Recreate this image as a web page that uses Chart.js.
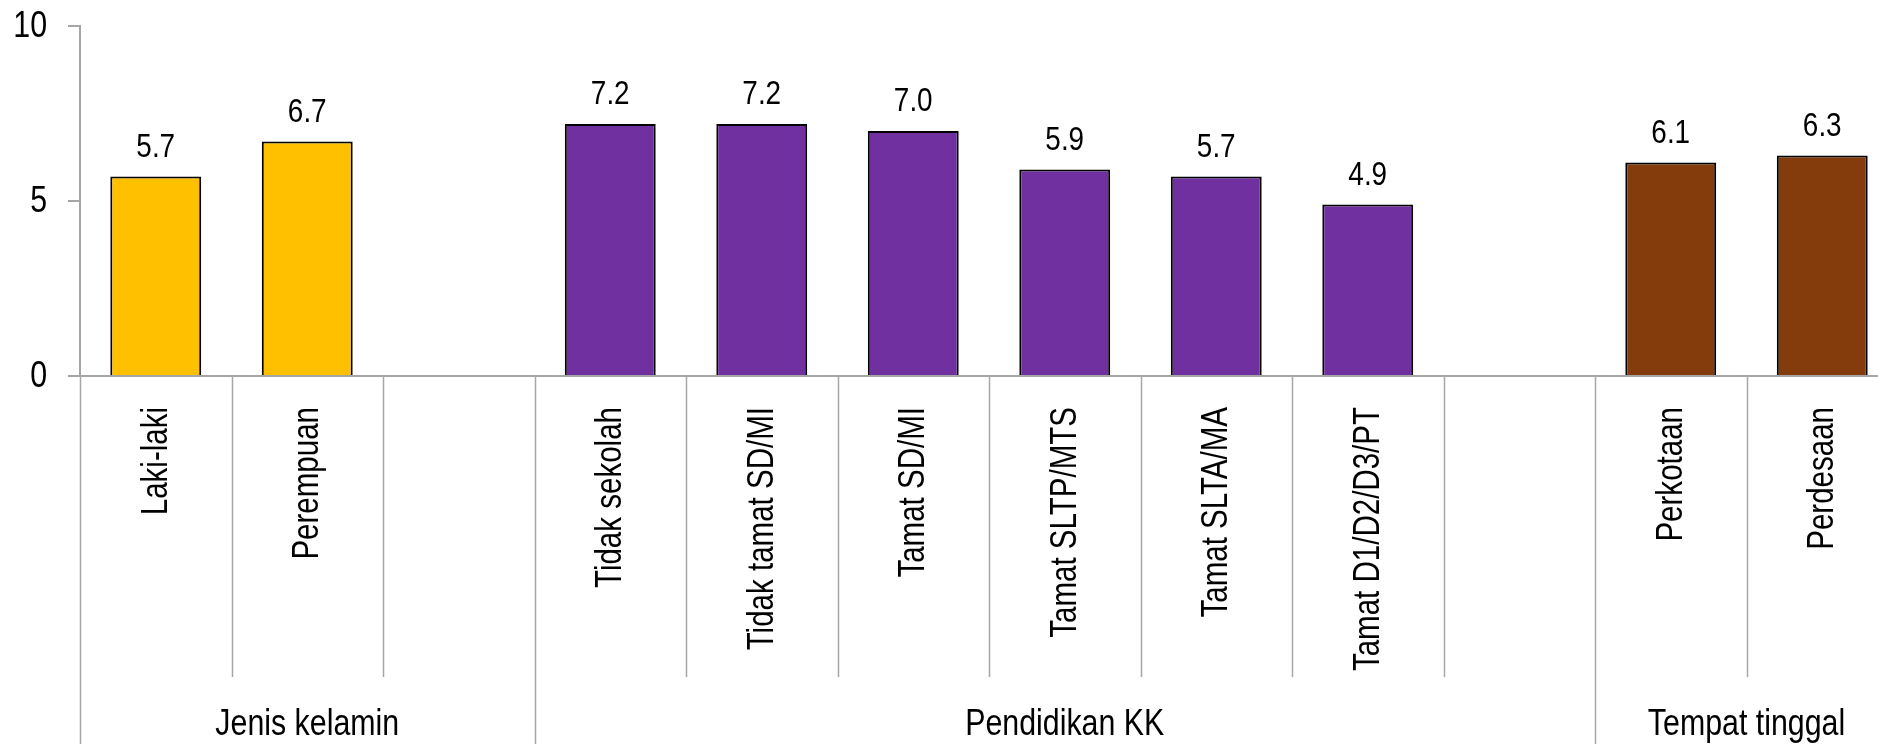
<!DOCTYPE html>
<html>
<head>
<meta charset="utf-8">
<script src="https://cdn.jsdelivr.net/npm/chart.js@4"></script>
<style>
  html, body { margin: 0; padding: 0; background: #fff; overflow: hidden; }
  #wrap { width: 1898px; height: 744px; }
</style>
</head>
<body>
<div id="wrap"><canvas id="c" width="1898" height="744"></canvas></div>
<script>
const categories = ['Laki-laki', 'Perempuan', '', 'Tidak sekolah', 'Tidak tamat SD/MI', 'Tamat SD/MI',
  'Tamat SLTP/MTS', 'Tamat SLTA/MA', 'Tamat D1/D2/D3/PT', '', 'Perkotaan', 'Perdesaan'];
const values = [5.7, 6.7, null, 7.2, 7.2, 7.0, 5.9, 5.7, 4.9, null, 6.1, 6.3];
const groupNames = ['Jenis kelamin', 'Pendidikan KK', 'Tempat tinggal'];
const groupSizes = [3, 7, 2];
const yTicks = [0, 5, 10];

const FONT = '"Liberation Sans", Arial, sans-serif';
const NARROW = 0.82; // no narrow face installed, squeeze the regular one
const GRID = '#a6a6a6';

const groupColors = ['#FFC000', '#7030A0', '#843C0C'];
const barColors = [];
groupSizes.forEach((n, g) => { for (let i = 0; i < n; i++) barColors.push(groupColors[g]); });

// text drawn narrow, like Arial Narrow
function narrowText(ctx, text, x, y, angle, align, baseline, size) {
  ctx.save();
  ctx.translate(x, y);
  ctx.rotate(angle);
  ctx.scale(NARROW, 1);
  ctx.font = size + 'px ' + FONT;
  ctx.fillStyle = '#000';
  ctx.textAlign = align;
  ctx.textBaseline = baseline;
  ctx.fillText(text, 0, 0);
  ctx.restore();
}

const axisText = {
  id: 'axisText',
  afterDraw(chart) {
    const ctx = chart.ctx;
    const x = chart.scales.x;
    const y = chart.scales.y;
    const top = chart.chartArea.bottom;
    const step = (x.right - x.left) / categories.length;
    const groupEdges = [0];
    groupSizes.forEach((n) => groupEdges.push(groupEdges[groupEdges.length - 1] + n));

    // separators under the axis
    ctx.save();
    ctx.strokeStyle = GRID;
    ctx.lineWidth = 1.5;
    for (let i = 0; i <= categories.length; i++) {
      const px = Math.round(x.left + i * step) + 0.5;
      ctx.beginPath();
      ctx.moveTo(px, top);
      ctx.lineTo(px, groupEdges.includes(i) ? chart.height : 677);
      ctx.stroke();
    }
    ctx.restore();

    // y tick labels
    yTicks.forEach((v) => narrowText(ctx, String(v), 47, y.getPixelForValue(v) + 1, 0, 'right', 'middle', 37));

    // category labels, rotated
    categories.forEach((c, i) => {
      if (!c) return;
      narrowText(ctx, c, x.getPixelForValue(i) + 1, top + 31, -Math.PI / 2, 'right', 'middle', 36);
    });

    // group names
    groupNames.forEach((name, g) => {
      const cx = x.left + (groupEdges[g] + groupEdges[g + 1]) / 2 * step;
      narrowText(ctx, name, cx, 735, 0, 'center', 'alphabetic', 37);
    });
  }
};

const valueLabels = {
  id: 'valueLabels',
  afterDatasetsDraw(chart) {
    const meta = chart.getDatasetMeta(0);
    meta.data.forEach((bar, i) => {
      if (values[i] == null) return;
      narrowText(chart.ctx, values[i].toFixed(1), bar.x, bar.y - 20, 0, 'center', 'alphabetic', 34);
    });
  }
};

new Chart(document.getElementById('c'), {
  type: 'bar',
  data: {
    labels: categories,
    datasets: [{
      data: values,
      backgroundColor: barColors,
      borderColor: '#000',
      borderWidth: 2,
      borderSkipped: 'bottom',
      barPercentage: 0.6,
      categoryPercentage: 1
    }]
  },
  options: {
    responsive: false,
    animation: false,
    layout: { padding: { top: 26, right: 0, bottom: 0, left: 0 } },
    plugins: { legend: { display: false }, tooltip: { enabled: false } },
    scales: {
      x: {
        grid: { display: false },
        border: { display: true, color: GRID, width: 2 },
        ticks: { display: false, autoSkip: false },
        afterFit(scale) { scale.height = 368; }
      },
      y: {
        min: 0,
        max: 10,
        afterBuildTicks(scale) { scale.ticks = yTicks.map((v) => ({ value: v })); },
        grid: { drawOnChartArea: false, color: GRID, lineWidth: 2, tickLength: 12 },
        border: { display: true, color: GRID, width: 2 },
        ticks: { display: false },
        afterFit(scale) { scale.width = 80; }
      }
    }
  },
  plugins: [axisText, valueLabels]
});
</script>
</body>
</html>
